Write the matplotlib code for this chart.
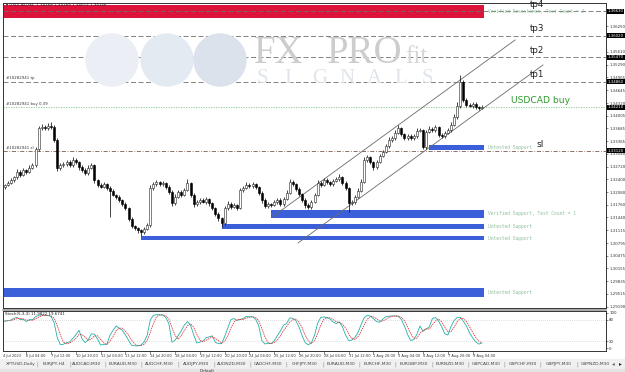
import numpy as np
import pandas as pd
import matplotlib.pyplot as plt
import matplotlib.transforms as mtransforms
from matplotlib.patches import Rectangle, Ellipse

# ---- data: USDCAD H4 candles (closes) ----
first_open = 1.3221
closes = [
    1.3226, 1.3231, 1.3238, 1.3246, 1.3259, 1.3251, 1.3264, 1.3259, 1.3269, 1.3276,
    1.3316, 1.3369, 1.3372, 1.3369, 1.3375, 1.3372, 1.3339, 1.3269, 1.3276, 1.3279,
    1.3284, 1.3276, 1.3289, 1.3284, 1.3271, 1.3264, 1.3256, 1.3269, 1.3276, 1.3238,
    1.3226, 1.3221, 1.3228, 1.3218, 1.3211, 1.3201, 1.3196, 1.3188, 1.3178, 1.3168,
    1.3140, 1.3122, 1.3117, 1.3112, 1.3107, 1.3115, 1.3125, 1.3218, 1.3228, 1.3233,
    1.3228, 1.3231, 1.3221, 1.3208, 1.3180, 1.3196, 1.3208, 1.3201, 1.3213, 1.3231,
    1.3201, 1.3178, 1.3183, 1.3188, 1.3183, 1.3191, 1.3180, 1.3168, 1.3153, 1.3143,
    1.3130, 1.3168, 1.3178, 1.3171, 1.3175, 1.3168, 1.3213, 1.3218, 1.3226, 1.3223,
    1.3228, 1.3221, 1.3206, 1.3188, 1.3173, 1.3178, 1.3175, 1.3183, 1.3188, 1.3178,
    1.3191, 1.3206, 1.3233, 1.3228, 1.3216, 1.3203, 1.3188, 1.3175, 1.3170, 1.3183,
    1.3201, 1.3231, 1.3226, 1.3238, 1.3233, 1.3228, 1.3236, 1.3241, 1.3246, 1.3231,
    1.3218, 1.3180, 1.3183, 1.3196, 1.3211, 1.3233, 1.3289, 1.3296, 1.3284, 1.3271,
    1.3284, 1.3299, 1.3309, 1.3324, 1.3339, 1.3344, 1.3357, 1.3369, 1.3354, 1.3344,
    1.3349, 1.3344, 1.3349, 1.3362, 1.3364, 1.3321, 1.3359, 1.3367, 1.3364, 1.3372,
    1.3352, 1.3349, 1.3357, 1.3364, 1.3377, 1.3397, 1.3425, 1.3485, 1.3440, 1.3427,
    1.3425, 1.3430, 1.3422, 1.3420, 1.3422,
]
# wick lengths in pips above / below the body
upper_wick = [
    3, 4, 5, 3, 6, 4, 5, 3, 6, 4,
    5, 6, 8, 5, 6, 10, 4, 5, 6, 4,
    5, 4, 7, 4, 3, 5, 4, 6, 5, 3,
    4, 5, 6, 3, 4, 5, 3, 4, 3, 4,
    3, 4, 3, 4, 3, 5, 6, 8, 6, 5,
    4, 6, 3, 4, 5, 6, 5, 4, 6, 10,
    3, 4, 5, 4, 6, 5, 3, 4, 3, 4,
    3, 6, 7, 4, 5, 4, 6, 5, 7, 4,
    6, 4, 3, 4, 5, 4, 3, 5, 6, 4,
    5, 6, 8, 5, 3, 4, 3, 4, 5, 6,
    5, 7, 4, 6, 5, 4, 6, 5, 7, 3,
    4, 3, 4, 5, 6, 7, 8, 6, 4, 3,
    5, 6, 5, 6, 7, 5, 6, 8, 4, 3,
    5, 4, 6, 7, 5, 3, 6, 7, 5, 6,
    3, 4, 5, 6, 7, 8, 10, 18, 4, 5,
    4, 5, 4, 3, 4,
]
lower_wick = [
    5, 4, 3, 5, 4, 6, 3, 5, 4, 3,
    4, 5, 4, 6, 4, 5, 6, 8, 5, 4,
    6, 5, 4, 6, 7, 5, 6, 4, 3, 6,
    5, 4, 3, 6, 66, 4, 5, 4, 6, 5,
    6, 5, 4, 6, 10, 4, 3, 4, 5, 6,
    5, 4, 6, 5, 8, 4, 3, 5, 4, 3,
    6, 7, 4, 5, 3, 4, 6, 5, 6, 7,
    10, 4, 5, 6, 4, 5, 3, 4, 3, 5,
    4, 6, 5, 7, 6, 5, 4, 3, 5, 6,
    4, 3, 4, 6, 5, 4, 6, 7, 5, 4,
    3, 4, 6, 4, 5, 6, 4, 3, 4, 6,
    5, 22, 5, 4, 3, 4, 3, 5, 6, 7,
    4, 3, 4, 3, 4, 5, 4, 3, 6, 5,
    4, 6, 5, 4, 3, 5, 4, 3, 5, 4,
    6, 5, 4, 3, 4, 3, 4, 5, 6, 5,
    4, 5, 6, 5, 4,
]

# zones: anchor candle, top, bottom, label
zone_start = [-0.5, 137, 86, 70, 44, -0.5]
zone_top = [1.3679, 1.3327, 1.3163, 1.3128, 1.3097, 1.2966]
zone_bot = [1.3647, 1.3313, 1.3143, 1.3115, 1.3087, 1.2944]
zone_color = ['#dc143c', '#3b5fd9', '#3b5fd9', '#3b5fd9', '#3b5fd9', '#3b5fd9']
zone_label = ['Verified Resistance, Test Count = 2', 'Untested Support',
              'Verified Support, Test Count = 1', 'Untested Support',
              'Untested Support', 'Untested Support']

tp_names = ['tp4', 'tp3', 'tp2', 'tp1']
tp_levels = [1.3663, 1.3602, 1.3547, 1.3486]
buy_level = 1.3421
sl_level = 1.3312

# channel anchors (candle index, price)
chan_up_x, chan_up_y = [86.3, 164.7], [1.3145, 1.3591]
chan_lo_x, chan_lo_y = [94.7, 173.7], [1.3080, 1.3528]

price_ticks = [1.29190, 1.29515, 1.29835, 1.30155, 1.30475, 1.30795, 1.31115,
               1.31440, 1.31760, 1.32080, 1.32400, 1.32720, 1.33040, 1.33365,
               1.33685, 1.34005, 1.34320, 1.34645, 1.34965, 1.35290, 1.35610,
               1.36250]

time_labels = ['6 Jul 04:00', '7 Jul 12:00', '10 Jul 20:00', '12 Jul 04:00',
               '13 Jul 12:00', '14 Jul 20:00', '18 Jul 04:00', '19 Jul 12:00',
               '20 Jul 20:00', '24 Jul 04:00', '25 Jul 12:00', '26 Jul 20:00',
               '28 Jul 04:00', '31 Jul 12:00', '1 Aug 20:00', '3 Aug 04:00',
               '4 Aug 12:00', '7 Aug 20:00', '9 Aug 04:00']

tabs = ['XPTUSD,Daily', 'EURJPY,H4', 'AUDCAD,M30', 'EURAUD,M30', 'AUDCHF,M30',
        'AUDJPY,M30', 'AUDNZD,M30', 'CADCHF,M30', 'CHFJPY,M30', 'EURAUD,M30',
        'EURCHF,M30', 'EURGBP,M30', 'EURNZD,M30', 'GBPCAD,M30', 'GBPCHF,M30',
        'GBPJPY,M30', 'GBPNZD,M30']

# ---- figure ----
W, H = 625, 372
fig = plt.figure(figsize=(W / 100, H / 100), dpi=100)
fig.patch.set_facecolor('white')


def px_box(x0, y0, x1, y1):
    return [x0 / W, 1 - y1 / H, (x1 - x0) / W, (y1 - y0) / H]


ax = fig.add_axes(px_box(3, 3, 606, 308))
st = fig.add_axes(px_box(3, 311, 606, 351))

c = np.array(closes)
o = np.array([first_open] + closes[:-1])
hi = np.maximum(o, c) + np.array(upper_wick) * 1e-4
lo = np.minimum(o, c) - np.array(lower_wick) * 1e-4
idx = np.arange(len(c))
last = idx[-1] + 0.5

xmax = -0.5 + 603 / 3.1
ax.set_xlim(-0.5, xmax)
ax.set_ylim(1.2916, 1.3684)

# watermark
for cx, col in zip([112, 167, 220], ['#ebeff5', '#e4eaf2', '#dbe2ec']):
    fig.patches.append(Ellipse((cx / W, 1 - 60 / H), 52 / W, 52 / H,
                               transform=fig.transFigure, color=col, zorder=0))
fig.text(254 / W, 1 - 63 / H, 'FX', family='Liberation Serif', fontsize=28,
         color='#cdcdcd', zorder=0.5)
fig.text(327 / W, 1 - 63 / H, 'PRO', family='Liberation Serif', fontsize=28,
         color='#cdcdcd', zorder=0.5)
fig.text(405 / W, 1 - 63 / H, 'fit', family='Liberation Serif', fontsize=18,
         color='#d6d6d6', zorder=0.5)
for k, ch in enumerate('SIGNALS'):
    fig.text((257 + k * 27.5) / W, 1 - 83 / H, ch, family='Liberation Serif',
             fontsize=15, color='#e0e5ec', zorder=0.5)
ax.patch.set_alpha(0)

# zones
for s, t, b, col, lab in zip(zone_start, zone_top, zone_bot, zone_color, zone_label):
    ax.add_patch(Rectangle((s, b), last - s, t - b, color=col, lw=0, zorder=1))
    ax.text(last + 1.5, (t + b) / 2, lab, family='DejaVu Sans Mono', fontsize=3.3,
            color='#8fbf9a', va='center', ha='left', zorder=4)

# horizontal order lines
for name, lvl in zip(tp_names, tp_levels):
    ax.axhline(lvl, color='#6e6e6e', lw=0.6, ls=(0, (6, 3)), zorder=2)
    ax.text(169.5, lvl + 0.0006, name, fontsize=6.3, color='#222222',
            ha='left', va='bottom', zorder=4)
ax.axhline(buy_level, color='#7fc97f', lw=0.6, ls=(0, (1.5, 1.5)), zorder=2)
ax.text(163.5, buy_level + 0.0005, 'USDCAD buy', fontsize=6.6, color='#2e9b2e',
        ha='left', va='bottom', zorder=4)
ax.axhline(sl_level, color='#7a5a50', lw=0.6, ls=(0, (5, 2, 1, 2)), zorder=2)
ax.text(171.5, sl_level + 0.0004, 'sl', fontsize=6.6, color='#222222',
        ha='left', va='bottom', zorder=4)

ax.text(0.5, tp_levels[3] + 0.0003, '#10282941 tp', fontsize=2.8, color='#333333',
        va='bottom', zorder=4)
ax.text(0.5, buy_level + 0.0003, '#10282941 buy 0.39', fontsize=2.8, color='#333333',
        va='bottom', zorder=4)
ax.text(0.5, sl_level + 0.0003, '#10282941 sl', fontsize=2.8, color='#333333',
        va='bottom', zorder=4)

# channel
ax.plot(chan_up_x, chan_up_y, color='#6a6a6a', lw=0.6, zorder=2)
ax.plot(chan_lo_x, chan_lo_y, color='#6a6a6a', lw=0.6, zorder=2)

# candles
ax.vlines(idx, lo, hi, color='#111111', lw=0.55, zorder=3)
up = c >= o
body = np.maximum(np.abs(c - o), 0.00004)
ax.bar(idx[up], body[up], bottom=o[up], width=0.62, color='white',
       edgecolor='#222222', lw=0.4, zorder=3.5)
ax.bar(idx[~up], body[~up], bottom=c[~up], width=0.62, color='black',
       edgecolor='black', lw=0.4, zorder=3.5)

# header
ax.text(0.5, 1.3684 - 0.0001, '\u25be USDCAD,H4  1.34168 1.34189 1.34072 1.34156',
        fontsize=3.0, color='#222222', va='top', zorder=5)

# right price axis
ax.yaxis.tick_right()
ax.set_yticks(price_ticks)
ax.set_yticklabels([f'{v:.5f}' for v in price_ticks])
ax.tick_params(axis='y', labelsize=2.8, length=1.2, width=0.4, pad=1.0,
               colors='#333333')
ax.set_xticks([])
blend = mtransforms.blended_transform_factory(ax.transAxes, ax.transData)
for lvl in tp_levels + [buy_level, sl_level]:
    ax.text(1.003, lvl, f'{lvl:.5f}', transform=blend, fontsize=2.8, color='white',
            va='center', ha='left', zorder=6, clip_on=False,
            bbox=dict(boxstyle='square,pad=0.15', fc='black', ec='none'))
for sp in ax.spines.values():
    sp.set_linewidth(0.7)
    sp.set_color('#333333')

# stochastic (5,3,3) from the candles
s_hi = pd.Series(hi).rolling(5, min_periods=1).max()
s_lo = pd.Series(lo).rolling(5, min_periods=1).min()
num = (pd.Series(c) - s_lo).rolling(3, min_periods=1).sum()
den = (s_hi - s_lo).rolling(3, min_periods=1).sum()
k_line = 100 * num / den
d_line = k_line.rolling(3, min_periods=1).mean()

st.set_xlim(-0.5, xmax)
st.set_ylim(-8.3, 105.6)
st.plot(idx, k_line, color='#20b2aa', lw=0.6)
st.plot(idx, d_line, color='#e03030', lw=0.55, ls=(0, (2, 1)))
for lvl in [20, 80]:
    st.axhline(lvl, color='#c0c0c0', lw=0.5, ls=(0, (1, 2)))
st.yaxis.tick_right()
st.set_yticks([0, 20, 80, 100])
st.tick_params(axis='y', labelsize=2.8, length=1.2, width=0.4, pad=1.0,
               colors='#333333')
st.set_xticks([])
st.text(0.003, 0.97, 'Stoch(5,3,3) 11.9822 19.6741', transform=st.transAxes,
        fontsize=2.9, color='#222222', va='top')
for sp in st.spines.values():
    sp.set_linewidth(0.7)
    sp.set_color('#333333')
fig.add_artist(plt.Line2D([3 / W, 606 / W], [1 - 309.5 / H] * 2, color='#9a9a9a',
                          lw=1.2))

# time labels under the stochastic
tblend = mtransforms.blended_transform_factory(st.transData, fig.transFigure)
st.text(-0.5, 1 - 355.5 / H, '4 Jul 2023', transform=tblend, fontsize=2.6,
        color='#333333', va='center', ha='left', clip_on=False)
for k, lab in enumerate(time_labels):
    pos = 7 + 8 * k
    st.text(pos, 1 - 355.5 / H, lab, transform=tblend, fontsize=2.6,
            color='#333333', va='center', ha='left', clip_on=False)
    xf = st.transData.transform((pos, 0))[0] / W
    fig.add_artist(plt.Line2D([xf, xf], [1 - 351 / H, 1 - 354 / H],
                              color='#333333', lw=0.4))

# tab bar
fig.patches.append(Rectangle((0, 1 - 369 / H), 1, 10 / H, transform=fig.transFigure,
                             color='#f0f0f0', zorder=0))
fig.patches.append(Rectangle((0, 0), 1, 3 / H, transform=fig.transFigure,
                             color='#e4e4e4', zorder=0))
centers = [21, 54] + [87 + 36.3 * j for j in range(len(tabs) - 2)]
for j, (cx, name) in enumerate(zip(centers, tabs)):
    fig.text(cx / W, 1 - 364 / H, name, fontsize=3.2, color='#444444',
             ha='center', va='center')
    if j < len(tabs) - 1:
        fig.text((cx + centers[j + 1]) / 2 / W, 1 - 364 / H, '|', fontsize=3.6,
                 color='#888888', ha='center', va='center')
fig.text(613 / W, 1 - 364 / H, '\u25c2', fontsize=4, color='#666666', ha='center',
         va='center')
fig.text(620 / W, 1 - 364 / H, '\u25b8', fontsize=4, color='#222222', ha='center',
         va='center')
fig.text(200 / W, 1 - 371 / H, 'Default', fontsize=3.0, color='#333333',
         ha='left', va='center')

fig.savefig('out.png', dpi=100)
